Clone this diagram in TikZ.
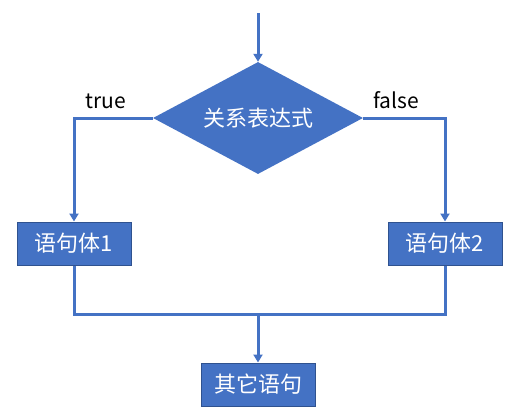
\documentclass[tikz,border=0pt]{standalone}
\usepackage{fontspec}
\setmainfont{Noto Sans CJK SC}
\usetikzlibrary{arrows.meta,shapes.geometric}
\definecolor{fillblue}{HTML}{4472C4}
\definecolor{edgeblue}{HTML}{2F528F}
\tikzset{
  box/.style={rectangle,fill=fillblue,draw=edgeblue,line width=1pt,minimum width=114pt,minimum height=43pt,inner sep=0pt,text=white,font=\fontsize{22}{26}\selectfont},
  decision/.style={diamond,fill=fillblue,draw=none,minimum width=210pt,minimum height=112pt,inner sep=0pt},
  dtext/.style={text=white,font=\fontsize{22}{26}\selectfont,inner sep=0pt},
  conn/.style={draw=fillblue,line width=3pt},
  arr/.style={conn,-{Triangle[length=8pt,width=9pt]}},
  lbl/.style={font=\fontsize{21}{25}\selectfont,text=black,inner sep=0pt}
}
\begin{document}
\begin{tikzpicture}[x=1pt,y=-1pt]
\useasboundingbox (0,0) rectangle (514,418);
\node[decision] (d) at (258,118) {};
\node[dtext] (dt) at (d.center) {关系表达式};
\node[box] (b1) at (74,243.5) {语句体1};
\node[box] (b2) at (445,243.5) {语句体2};
\node[box] (b3) at (258,384.5) {其它语句};
\coordinate (start) at (258,13);
\coordinate (m) at (258,314);
\node[lbl] (t) at (106,101) {true};
\node[lbl] (f) at (396,100) {false};
\draw[arr] (start) -- (d.north);
\draw[arr] (d.west) -| (b1.north);
\draw[arr] (d.east) -| (b2.north);
\draw[conn] (b1.south) |- (m) -| (b2.south);
\draw[arr] (m) -- (b3.north);
\end{tikzpicture}
\end{document}
